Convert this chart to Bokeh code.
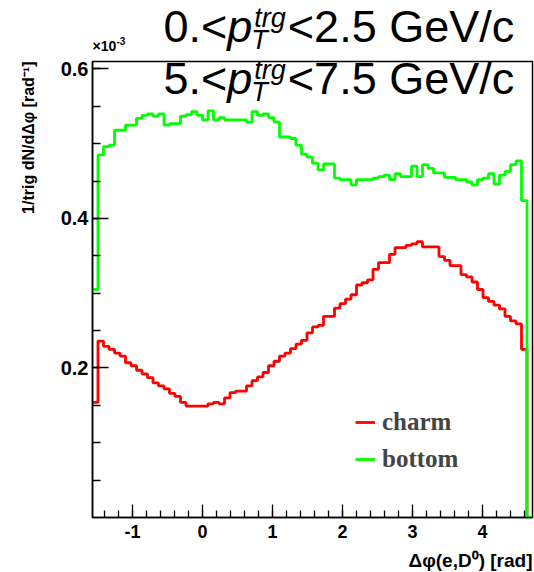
import math
from bokeh.plotting import figure
from bokeh.layouts import row, column
from bokeh.models import Range1d, FixedTicker, Label, Legend, LegendItem
from bokeh.embed import file_html
from bokeh.resources import INLINE

# ---------------- data (values in units of 1e-3) -------------
n_bins = 80
x_lo, x_hi = -math.pi / 2, 3 * math.pi / 2

charm = [0.154, 0.236, 0.229, 0.225, 0.220, 0.216, 0.207, 0.203, 0.197, 0.192,
         0.187, 0.180, 0.176, 0.172, 0.166, 0.162, 0.154, 0.149, 0.149, 0.149,
         0.149, 0.152, 0.154, 0.152, 0.160, 0.167, 0.169, 0.169, 0.176, 0.183,
         0.188, 0.194, 0.203, 0.209, 0.216, 0.220, 0.226, 0.232, 0.237, 0.247,
         0.255, 0.257, 0.269, 0.269, 0.280, 0.286, 0.292, 0.298, 0.311, 0.314,
         0.318, 0.332, 0.341, 0.341, 0.352, 0.361, 0.361, 0.364, 0.366, 0.369,
         0.362, 0.362, 0.362, 0.349, 0.344, 0.337, 0.337, 0.325, 0.322, 0.315,
         0.305, 0.294, 0.289, 0.284, 0.279, 0.269, 0.263, 0.259, 0.225, 0.0]

bottom = [0.305, 0.485, 0.496, 0.498, 0.518, 0.518, 0.525, 0.525, 0.534, 0.538,
          0.540, 0.537, 0.540, 0.525, 0.527, 0.527, 0.537, 0.539, 0.543, 0.538,
          0.532, 0.544, 0.532, 0.535, 0.532, 0.532, 0.532, 0.532, 0.529, 0.543,
          0.538, 0.540, 0.535, 0.529, 0.509, 0.509, 0.507, 0.498, 0.486, 0.482,
          0.474, 0.465, 0.473, 0.473, 0.454, 0.452, 0.452, 0.445, 0.452, 0.452,
          0.452, 0.454, 0.456, 0.458, 0.452, 0.460, 0.456, 0.456, 0.470, 0.456,
          0.472, 0.467, 0.461, 0.461, 0.455, 0.455, 0.452, 0.452, 0.449, 0.445,
          0.452, 0.454, 0.460, 0.446, 0.458, 0.463, 0.472, 0.477, 0.424, 0.0]

x_major = [-1, 0, 1, 2, 3, 4]
y_major = [0.2, 0.4, 0.6]
series_names = ["charm", "bottom"]
series_colors = ["#ff0000", "#00ff00"]

edges = [x_lo + i * (x_hi - x_lo) / n_bins for i in range(n_bins + 1)]
x_minor = [round(-1.4 + 0.2 * k, 1) for k in range(31)]
y_minor = [round(0.05 * k, 2) for k in range(1, 13)]

# ---------------- page layout (px) -------------
LEFT_W = 40          # left strip holding the y title
TOP_H = 56           # strip above the main figure
BOT_H = 25           # strip below holding the x title
MAIN_W = 534 - LEFT_W
MAIN_H = 572 - TOP_H - BOT_H
FRAME_L, FRAME_R = 92, 532   # page x of the frame edges
FRAME_T, FRAME_B = 61, 517   # page y of the frame edges
BL = FRAME_L - LEFT_W
BR = 534 - FRAME_R


def blank(w, h, bl=0, br=0):
    f = figure(width=w, height=h, output_backend="svg", toolbar_location=None, title=None,
               x_range=Range1d(0, 1), y_range=Range1d(0, 1),
               min_border_left=bl, min_border_right=br, min_border_top=0, min_border_bottom=0,
               x_axis_location=None, y_axis_location=None,
               background_fill_color="white", border_fill_color="white")
    f.outline_line_color = None
    f.grid.visible = False
    return f


left_fig = blank(LEFT_W, 572)
top_fig = blank(MAIN_W, TOP_H, BL, BR)
bot_fig = blank(MAIN_W, BOT_H, BL, BR)

p = figure(width=MAIN_W, height=MAIN_H, output_backend="svg", toolbar_location=None, title=None,
           x_range=Range1d(x_lo, x_hi), y_range=Range1d(0, 0.61),
           min_border_left=BL, min_border_right=BR, min_border_top=FRAME_T - TOP_H,
           min_border_bottom=MAIN_H - (FRAME_B - TOP_H),
           background_fill_color="white", border_fill_color="white")
p.grid.visible = False
p.outline_line_color = "black"
p.outline_line_width = 1.5

renderers = []
for vals, name, col in zip([charm, bottom], series_names, series_colors):
    r = p.step(edges, vals + [vals[-1]], mode="after", line_color=col, line_width=2.8)
    renderers.append(r)

p.xaxis.ticker = FixedTicker(ticks=x_major, minor_ticks=x_minor)
p.yaxis.ticker = FixedTicker(ticks=y_major, minor_ticks=y_minor)
p.xaxis.major_label_overrides = {t: str(t) for t in x_major}
for ax in (p.xaxis, p.yaxis):
    ax.axis_line_width = 1.5
    ax.major_tick_out = 0
    ax.minor_tick_out = 0
    ax.major_tick_line_width = 1.3
    ax.minor_tick_line_width = 1.3
    ax.major_label_text_font = "Liberation Sans"
    ax.major_label_text_font_style = "bold"
    ax.major_label_text_color = "black"
p.xaxis.major_label_text_font_size = "18px"
p.yaxis.major_label_text_font_size = "20px"
p.xaxis.major_tick_in = 13
p.xaxis.minor_tick_in = 7
p.yaxis.major_tick_in = 16
p.yaxis.minor_tick_in = 8
p.xaxis.major_label_standoff = 7
p.yaxis.major_label_standoff = 4

# legend
legend = Legend(items=[LegendItem(label=n, renderers=[r]) for n, r in zip(series_names, renderers)],
                location=(263, 43), padding=0, margin=0, spacing=7,
                glyph_width=20, glyph_height=30, label_height=30, label_standoff=7,
                border_line_color=None, background_fill_alpha=0,
                label_text_font="Liberation Serif", label_text_font_style="bold",
                label_text_font_size="25px")
p.add_layout(legend)

# frame origin (left, bottom) of each figure in page px
ORIG = {
    "main": (p, FRAME_L, FRAME_B),
    "top": (top_fig, FRAME_L, TOP_H),
    "left": (left_fig, 0, 572),
    "bot": (bot_fig, FRAME_L, 572),
}
SHIFT = 0.38   # empirical baseline correction (fraction of font size)


def lab(where, text, cx, cy, size, style="normal", align="left", angle=0.0,
        baseline="alphabetic"):
    fig, ox, oy = ORIG[where]
    dy = SHIFT * size if baseline == "alphabetic" else 0.0
    fig.add_layout(Label(x=cx - ox, y=oy - cy + dy, x_units="screen", y_units="screen",
                         text=text, text_font="Liberation Sans", text_font_style=style,
                         text_font_size=f"{size}px", text_align=align, text_baseline=baseline,
                         angle=angle, text_color="black"))


# axis titles
lab("left", "1/trig dN/d\u0394\u03c6 [rad\u207b\u00b9]", 28, 61, 16, style="bold",
    align="right", angle=math.pi / 2, baseline="middle")
lab("bot", "\u0394\u03c6(e,D\u2070) [rad]", 532, 567, 19, style="bold", align="right")
lab("top", "\u00d710", 92, 51, 14, style="bold")
lab("top", "-3", 116, 44, 10, style="bold")

# pT headers
F = 45
S = 27
for where, cy, lo, hi in [("top", 43, "0.", "2.5"), ("main", 95, "5.", "7.5")]:
    x0 = 163
    lab(where, lo + "<", x0, cy, F)
    xp = x0 + (0.556 + 0.278 + 0.584) * F
    lab(where, "p", xp, cy, F, style="italic")
    xs = xp + 0.556 * F
    lab(where, "T", xs - 1, cy + 7, S, style="italic")
    lab(where, "trg", xs + 2, cy - 15, S, style="italic")
    xr = xs + 2 + 1.167 * S + 2
    lab(where, "<" + hi + " GeV/c", xr, cy, F)

page = row(left_fig, column(top_fig, p, bot_fig, spacing=0), spacing=0)
open("out.html", "w").write(file_html(page, INLINE))
